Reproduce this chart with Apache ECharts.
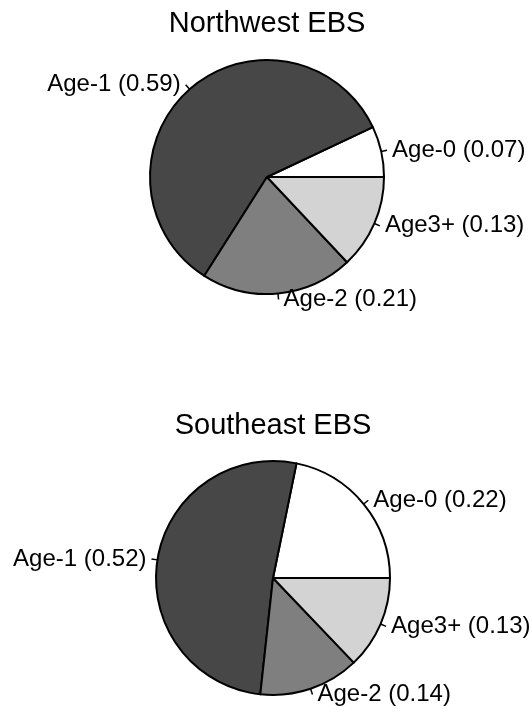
<!DOCTYPE html>
<html>
<head>
<meta charset="utf-8">
<script src="https://cdn.jsdelivr.net/npm/echarts@6/dist/echarts.min.js"></script>
<style>
html,body{margin:0;padding:0;background:#fff;}
#chart{width:532px;height:712px;}
</style>
</head>
<body>
<div id="chart"></div>
<script>
const ageGroups = ['Age-0', 'Age-1', 'Age-2', 'Age3+'];
const northwestValues = [0.07, 0.59, 0.21, 0.13];
const southeastValues = [0.22, 0.52, 0.14, 0.13];
const sliceColors = ['#ffffff', '#474747', '#7f7f7f', '#d3d3d3'];
const panelTitles = ['Northwest EBS', 'Southeast EBS'];

function buildData(values) {
  return ageGroups.map((name, i) => ({
    name: name,
    value: values[i],
    itemStyle: { color: sliceColors[i] }
  }));
}

function pieSeries(values, center) {
  return {
    type: 'pie',
    center: center,
    radius: 117,
    startAngle: 0,
    clockwise: false,
    avoidLabelOverlap: false,
    silent: true,
    animation: false,
    data: buildData(values),
    itemStyle: { borderColor: '#000', borderWidth: 2 },
    label: {
      show: true,
      position: 'outside',
      color: '#000',
      fontFamily: 'Liberation Sans, Arial, sans-serif',
      fontSize: 24,
      distanceToLabelLine: 5,
      formatter: p => p.name + ' (' + p.value.toFixed(2) + ')'
    },
    labelLine: {
      show: true,
      length: 6,
      length2: 0,
      lineStyle: { color: '#000', width: 1.5 }
    },
    emphasis: { disabled: true }
  };
}

const chart = echarts.init(document.getElementById('chart'), null, { renderer: 'canvas' });
chart.setOption({
  backgroundColor: '#fff',
  title: [
    {
      text: panelTitles[0], left: 267, top: 9, textAlign: 'center', padding: 0,
      textStyle: { fontFamily: 'Liberation Sans, Arial, sans-serif', fontSize: 29, fontWeight: 'normal', color: '#000' }
    },
    {
      text: panelTitles[1], left: 273, top: 411, textAlign: 'center', padding: 0,
      textStyle: { fontFamily: 'Liberation Sans, Arial, sans-serif', fontSize: 29, fontWeight: 'normal', color: '#000' }
    }
  ],
  series: [
    pieSeries(northwestValues, [267, 177]),
    pieSeries(southeastValues, [273, 578])
  ]
});
</script>
</body>
</html>
